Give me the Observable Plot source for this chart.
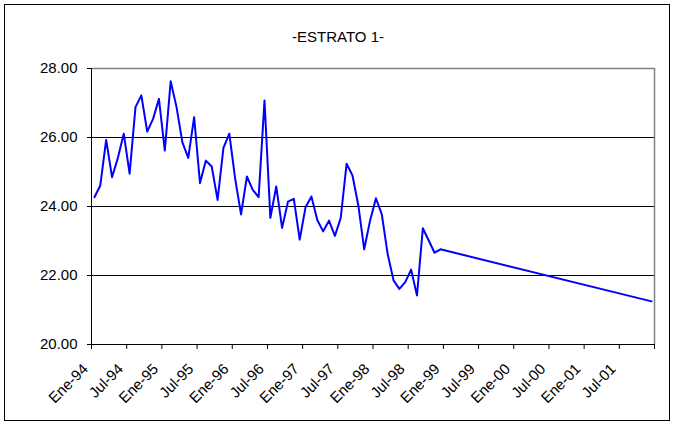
<!DOCTYPE html>
<html><head><meta charset="utf-8">
<script src="https://cdn.jsdelivr.net/npm/d3@7"></script>
<script src="https://cdn.jsdelivr.net/npm/@observablehq/plot@0.6"></script>
<style>
html,body{margin:0;padding:0;background:#fff;}
#wrap{position:relative;width:675px;height:424px;}
#border{position:absolute;left:4px;top:4px;width:664px;height:415px;border:1px solid #000;pointer-events:none;}
#wrap svg{position:absolute;left:0;top:0;}
</style></head><body><div id="wrap"><div id="border"></div></div>
<script>
const title = "-ESTRATO 1-";
const months = [
  "1994-01","1994-02","1994-03","1994-04","1994-05","1994-06","1994-07","1994-08","1994-09","1994-10","1994-11","1994-12",
  "1995-01","1995-02","1995-03","1995-04","1995-05","1995-06","1995-07","1995-08","1995-09","1995-10","1995-11","1995-12",
  "1996-01","1996-02","1996-03","1996-04","1996-05","1996-06","1996-07","1996-08","1996-09","1996-10","1996-11","1996-12",
  "1997-01","1997-02","1997-03","1997-04","1997-05","1997-06","1997-07","1997-08","1997-09","1997-10","1997-11","1997-12",
  "1998-01","1998-02","1998-03","1998-04","1998-05","1998-06","1998-07","1998-08","1998-09","1998-11","1998-12",
  "2001-12"
];
const values = [
  24.27,24.61,25.93,24.85,25.41,26.11,24.95,26.88,27.22,26.17,26.54,27.12,
  25.62,27.63,26.88,25.86,25.41,26.59,24.68,25.33,25.16,24.19,25.70,26.11,
  24.80,23.77,24.87,24.48,24.27,27.07,23.67,24.58,23.38,24.14,24.22,23.04,
  23.98,24.29,23.61,23.28,23.59,23.15,23.67,25.24,24.90,24.03,22.76,23.59,
  24.24,23.77,22.62,21.86,21.61,21.81,22.17,21.42,23.37,22.66,22.76,
  21.25
];
const tickLabels = ["Ene-94","Jul-94","Ene-95","Jul-95","Ene-96","Jul-96","Ene-97","Jul-97",
  "Ene-98","Jul-98","Ene-99","Jul-99","Ene-00","Jul-00","Ene-01","Jul-01",""];
const yTicks = [20,22,24,26,28];

const monthIndex = m => (+m.slice(0,4) - 1994) * 12 + (+m.slice(5,7) - 1);
const data = months.map((m, i) => ({t: monthIndex(m), v: values[i]}));
const nCat = tickLabels.length - 1;
const tickPos = tickLabels.map((_, k) => k * 6 - 0.5);

const chart = Plot.plot({
  width: 675, height: 424,
  marginLeft: 91, marginRight: 21, marginTop: 68, marginBottom: 80,
  style: {fontFamily: "'Liberation Sans', Arial, sans-serif", fontSize: "15px", background: "transparent", color: "#000"},
  x: {domain: [-0.5, nCat * 6 - 0.5], label: null},
  y: {domain: [20, 28], label: null},
  marks: [
    Plot.ruleY([22, 24, 26], {stroke: "#000", strokeWidth: 1}),
    Plot.ruleY([28], {stroke: "#808080", strokeWidth: 1.5}),
    Plot.ruleX([nCat * 6 - 0.5], {stroke: "#808080", strokeWidth: 1.5}),
    Plot.ruleY([20], {stroke: "#000"}),
    Plot.ruleX([-0.5], {stroke: "#000"}),
    Plot.axisX({ticks: tickPos, tickFormat: () => "", tickSize: 5, label: null, stroke: "#000"}),
    Plot.axisX({ticks: tickPos, tickFormat: d => tickLabels[Math.round((d + 0.5) / 6)], tickRotate: -45,
      tickSize: 0, tickPadding: 14, fontSize: 15, dx: -6, dy: 8, label: null}),
    Plot.axisY({ticks: yTicks, tickFormat: d => d.toFixed(2), tickSize: 4, tickPadding: 10, fontSize: 15, label: null}),
    Plot.line(data, {x: "t", y: "v", stroke: "#0000FF", strokeWidth: 2}),
    Plot.text([title], {text: d => d, frameAnchor: "top", lineAnchor: "middle", dx: -35, dy: -31, fontSize: 15, fill: "#000"})
  ]
});
document.getElementById("wrap").appendChild(chart);
</script>
</body></html>
